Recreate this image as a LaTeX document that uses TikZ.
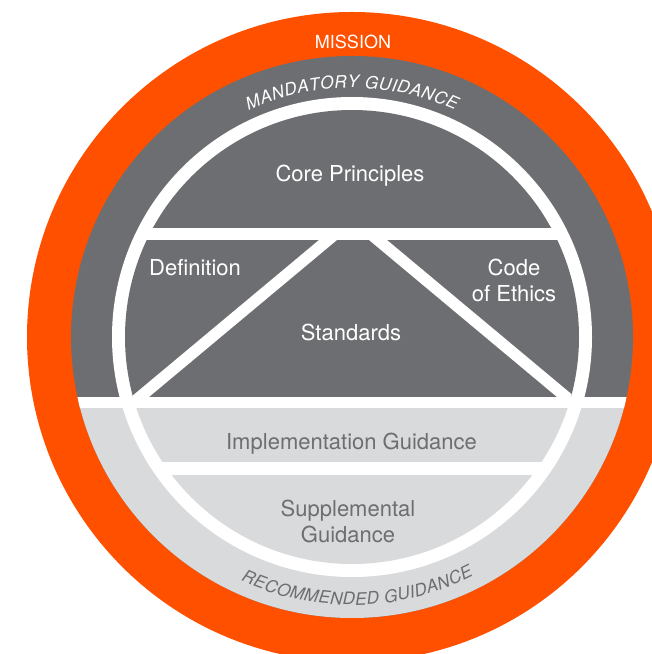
\documentclass[tikz,border=0pt]{standalone}
\usepackage{fontspec}
\setmainfont{TeX Gyre Heros}
\usetikzlibrary{decorations.text,calc}
\definecolor{orng}{HTML}{FF5000}
\definecolor{dgrey}{HTML}{6D6E71}
\definecolor{lgrey}{HTML}{D9DADC}
\tikzset{
  toplabel/.style={text=white, font=\fontsize{22}{26}\selectfont, anchor=base, inner sep=0pt},
  lowlabel/.style={text=dgrey, font=\fontsize{22}{26}\selectfont, anchor=base, inner sep=0pt},
}
\begin{document}
\begin{tikzpicture}[x=1pt,y=1pt]
\useasboundingbox (0,0) rectangle (652,654);
\clip (0,0) rectangle (652,654);
\coordinate (C) at (352,317);
% outer rings
\fill[orng] (C) circle[radius=325];
\fill[dgrey] (C) circle[radius=281];
\begin{scope}
  \clip (C) circle[radius=281];
  \fill[lgrey] (0,0) rectangle (652,252);
  \fill[white] (0,246) rectangle (652,257);
\end{scope}
\fill[white] (C) circle[radius=240];
% inner sections
\begin{scope}
  \clip (C) circle[radius=227];
  \fill[dgrey] (0,426) rectangle (652,654);
  \fill[dgrey] (0,257) rectangle (652,414);
  \fill[lgrey] (0,192) rectangle (652,246);
  \fill[lgrey] (0,0) rectangle (652,179);
  \fill[white] (326.2,420) -- (344.2,420) -- (141.8,251) -- (123.8,251) -- cycle;
  \fill[white] (379.8,420) -- (361.8,420) -- (564.2,251) -- (582.2,251) -- cycle;
\end{scope}
% ring texts
\path[decorate, decoration={text along path,
   text={|\fontsize{17.2}{18}\selectfont\itshape\color{white}|MANDATORY GUIDANCE},
   text align={fit to path}}]
   ($(C)+(114.5:249)$) arc[start angle=114.5, end angle=65.5, radius=249];
\path[decorate, decoration={text along path,
   text={|\fontsize{17.2}{18}\selectfont\itshape\color{dgrey}|RECOMMENDED GUIDANCE},
   text align={fit to path}}]
   ($(C)+(245.5:268)$) arc[start angle=245.5, end angle=297, radius=268];
% labels
\node[text=white, font=\fontsize{18}{20}\selectfont, anchor=base, inner sep=0pt] (mission) at (353,605.7) {MISSION};
\node[toplabel] (core) at (350,472) {Core Principles};
\node[toplabel] (def) at (195,378) {Definition};
\node[toplabel] (code1) at (514,378) {Code};
\node[toplabel] (code2) at (514,352) {of Ethics};
\node[toplabel] (std) at (351,313) {Standards};
\node[lowlabel] (impl) at (351.5,204) {Implementation Guidance};
\node[lowlabel] (supp1) at (348,137.3) {Supplemental};
\node[lowlabel] (supp2) at (348,111.5) {Guidance};
\end{tikzpicture}
\end{document}
